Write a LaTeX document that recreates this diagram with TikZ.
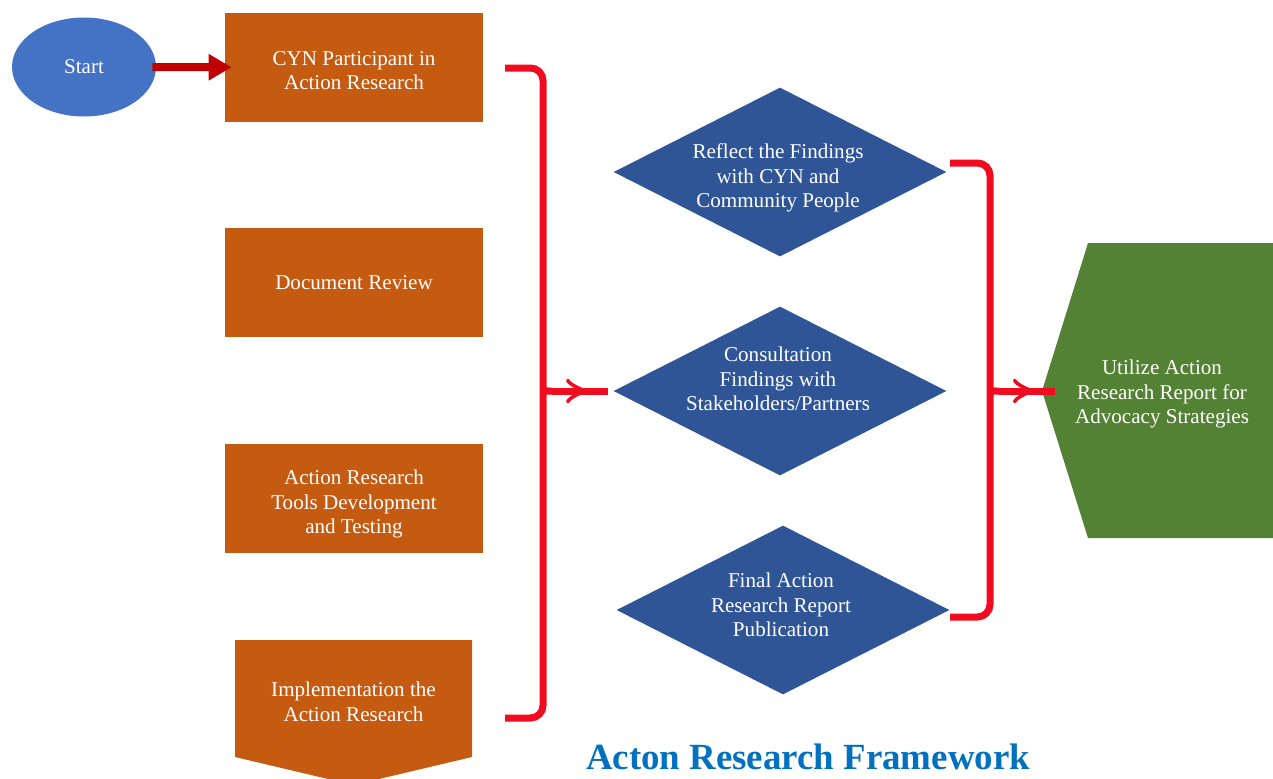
\documentclass[tikz,border=0pt]{standalone}
\usepackage{fontspec}
\setmainfont{Liberation Serif}
\usepackage{xcolor}
\usepackage{tikz}
\usetikzlibrary{shapes.geometric, arrows.meta, decorations.markings, calc}

\definecolor{startblue}{HTML}{4472C4}
\definecolor{stepbrown}{HTML}{C55A11}
\definecolor{diamondblue}{HTML}{2F5597}
\definecolor{resultgreen}{HTML}{548235}
\definecolor{bracered}{RGB}{240,12,30}
\definecolor{darkred}{HTML}{C00000}
\definecolor{titleblue}{HTML}{0070C0}

\begin{document}
\begin{tikzpicture}[x=0.02cm, y=-0.02cm,
    txt/.style={text=white, align=center, font=\fontsize{12}{14}\selectfont},
    stepbox/.style={fill=stepbrown, minimum width=5.16cm, minimum height=2.18cm, inner sep=0pt},
    decision/.style={diamond, aspect=1.97, fill=diamondblue, minimum width=6.66cm, minimum height=3.38cm, inner sep=0pt},
    bracket/.style={line width=0.14cm, bracered, rounded corners=0.25cm},
    feed/.style={line width=0.14cm, bracered, postaction={decorate},
        decoration={markings, mark=at position #1 with {\arrow{Classical TikZ Rightarrow[length=0.44cm, width=0.5cm, line width=0.07cm]}}}}
]
    \useasboundingbox (0,0) rectangle (1273,778);
    \clip (0,0) rectangle (1273,778);

    % Start
    \node[txt, ellipse, fill=startblue, minimum width=2.88cm, minimum height=1.98cm, inner sep=0pt] (start) at (84,67) {Start};

    % Steps (left column)
    \foreach \name/\y/\dy/\label in {cyn/67.5/-0.06cm/{CYN Participant in\\Action Research}, review/282.5/0cm/{Document Review}, tools/498/-0.12cm/{Action Research\\Tools Development\\and Testing}}
        \node[stepbox, label={[txt, yshift=\dy]center:{\label}}] (\name) at (354,\y) {};

    \fill[stepbrown] (235,640) -- (472,640) -- (472,757) -- (353.5,785) -- (235,757) -- cycle;
    \node[txt] (impl) at (353.5,702) {Implementation the\\Action Research};

    \draw[line width=0.16cm, darkred, -{Triangle[length=0.46cm, width=0.5cm]}, shorten <=-0.08cm, shorten >=-0.14cm] (start) -- (cyn);

    % Findings (middle column)
    \foreach \name/\x/\y/\dy/\label in {reflect/780/172/-0.12cm/{Reflect the Findings\\with CYN and\\Community People}, consult/780/391/0.24cm/{Consultation\\Findings with\\Stakeholders/Partners}, final/783/610/0.1cm/{Final Action\\Research Report\\Publication}}
        \node[decision, label={[txt, yshift=\dy, xshift=-0.04cm]center:{\label}}] (\name) at (\x,\y) {};

    % Result
    \coordinate (gtip) at (1042,391);
    \fill[resultgreen] (gtip) -- (1088,243) -- (1290,243) -- (1290,538) -- (1088,538) -- cycle;
    \node[txt] (utilize) at (1162,394) {Utilize Action\\Research Report for\\Advocacy Strategies};

    % Left bracket
    \coordinate (lt) at (505,68);
    \coordinate (lb) at (505,718);
    \coordinate (ltip) at (552,391);
    \draw[bracket] (ltip) .. controls (543,391) .. (543,381) -- (543,68) -- (lt)
                   (ltip) .. controls (543,391) .. (543,401) -- (543,718) -- (lb);
    \draw[feed=0.64] (ltip) -- ([xshift=-0.1cm]consult.west);

    % Right bracket
    \coordinate (rt) at (950,163);
    \coordinate (rb) at (950,617);
    \coordinate (rtip) at (999,391);
    \draw[bracket] (rtip) .. controls (990,391) .. (990,381) -- (990,163) -- (rt)
                   (rtip) .. controls (990,391) .. (990,401) -- (990,617) -- (rb);
    \draw[feed=0.64] (rtip) -- ([xshift=0.26cm]gtip);

    % Title
    \node[font=\fontsize{21}{24}\selectfont\bfseries, text=titleblue] (title) at (808,757) {Acton Research Framework};
\end{tikzpicture}
\end{document}
